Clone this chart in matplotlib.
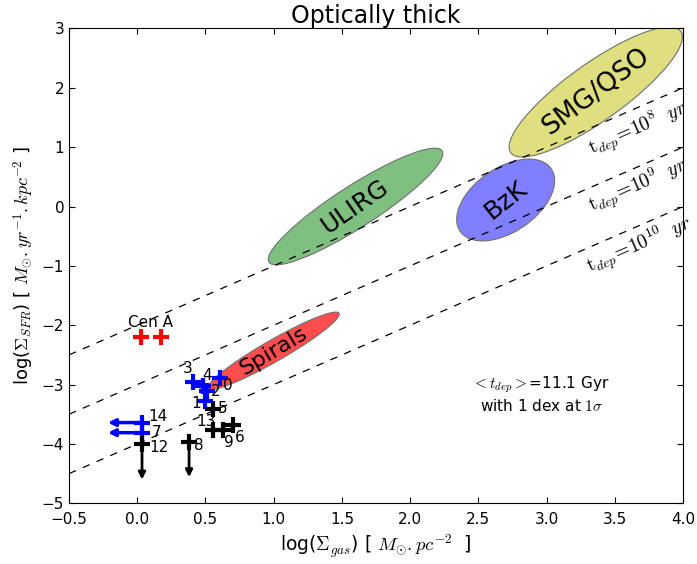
"""Kennicutt-Schmidt style plot: optically thick case."""

import matplotlib

matplotlib.use("Agg")

import matplotlib.pyplot as plt
import numpy as np
from matplotlib.patches import Ellipse

plt.rcParams["mathtext.fontset"] = "cm"

# depletion-time lines (log yr)
tdep_logs = [8, 9, 10]
tdep_label_x = [3.67, 3.67, 3.68]
tdep_label_y = [1.32, 0.36, -0.65]

# populations as ellipses: name, centre, width, height (data units), angle (deg), colour
pops = ["Spirals", "ULIRG", "BzK", "SMG/QSO"]
pop_x = [1.00, 1.60, 2.70, 3.36]
pop_y = [-2.43, 0.00, 0.11, 1.93]
pop_w = [1.60, 2.30, 1.43, 2.46]
pop_h = [0.25, 0.46, 0.61, 0.60]
pop_ang = [54, 58, 73, 62]
pop_col = ["#ff4d4d", "#7fbf7f", "#7f7fff", "#dfdf7f"]
pop_rot = [31, 35, 38, 37]
pop_fs = [16, 18, 18, 19]

# Cen A
cena_x = [0.025, 0.172]
cena_y = [-2.19, -2.19]

# numbered sources
blue_id = ["0", "1", "2", "3", "4"]
blue_x = [0.606, 0.496, 0.51, 0.408, 0.48]
blue_y = [-2.89, -3.28, -3.11, -2.955, -3.03]

black_id = ["5", "6", "9", "13"]
black_x = [0.555, 0.70, 0.628, 0.555]
black_y = [-3.41, -3.68, -3.76, -3.76]

# upper limits
lim_id = ["14", "7"]          # limits in gas (arrow to the left)
lim_x = [0.035, 0.035]
lim_y = [-3.64, -3.81]
ulim_id = ["12", "8"]         # limits in SFR (arrow down)
ulim_x = [0.035, 0.38]
ulim_y = [-4.0, -3.96]

# label offsets in points
label_off = {
    "0": (6, -5), "1": (-6.5, -2), "2": (6.5, 0), "3": (-3.6, 9.4), "4": (2.9, 7.9),
    "5": (7.2, 0.5), "6": (5, -9), "9": (4.3, -9.5), "13": (-5, 5.8),
    "14": (11.5, 4.3), "7": (10.8, 0), "12": (11.9, -2.2), "8": (7.2, -2.9),
}


def main() -> None:
    fig = plt.figure(figsize=(6.97, 5.64), dpi=100)
    ax = fig.add_axes([0.099, 0.1076, 0.881, 0.842])

    for name, x, y, w, h, a, c, r, fs in zip(pops, pop_x, pop_y, pop_w, pop_h,
                                             pop_ang, pop_col, pop_rot, pop_fs):
        ax.add_patch(Ellipse((x, y), w, h, angle=a, facecolor=c,
                             edgecolor="#707070", linewidth=0.8, zorder=1))
        ax.text(x, y, name, fontsize=fs, rotation=r, ha="center", va="center",
                rotation_mode="anchor", zorder=4)

    xs = np.array([-0.5, 4.0])
    for t, lx, ly in zip(tdep_logs, tdep_label_x, tdep_label_y):
        ax.plot(xs, xs + 6 - t, "k--", linewidth=0.9, dashes=(6, 6), zorder=2)
        ax.text(lx, ly, r"$\mathrm{t}_{dep}\!=\!10^{%d}\ \ yr$" % t, fontsize=14,
                rotation=23.5, ha="center", va="center", rotation_mode="anchor",
                clip_on=False)

    mk = dict(marker="+", markersize=12, markeredgewidth=3, linestyle="none", zorder=5)
    ax.plot(cena_x, cena_y, color="red", **mk)
    ax.text(np.mean(cena_x), cena_y[0] + 0.24, "Cen A", fontsize=11, ha="center", va="center")

    ax.plot(blue_x, blue_y, color="blue", **mk)
    ax.plot(black_x, black_y, color="black", **mk)
    ax.plot(lim_x, lim_y, color="blue", **mk)
    ax.plot(ulim_x, ulim_y, color="black", **mk)

    for x, y in zip(lim_x, lim_y):
        ax.annotate("", xy=(x - 0.25, y), xytext=(x, y), zorder=5,
                    arrowprops=dict(arrowstyle="-|>", color="blue", lw=2.5,
                                    mutation_scale=10, shrinkA=0, shrinkB=0))
    for x, y in zip(ulim_x, ulim_y):
        ax.annotate("", xy=(x, y - 0.6), xytext=(x, y), zorder=5,
                    arrowprops=dict(arrowstyle="-|>", color="black", lw=2,
                                    mutation_scale=10, shrinkA=0, shrinkB=0))

    for ids, xv, yv in [(blue_id, blue_x, blue_y), (black_id, black_x, black_y),
                        (lim_id, lim_x, lim_y), (ulim_id, ulim_x, ulim_y)]:
        for i, x, y in zip(ids, xv, yv):
            ax.annotate(i, (x, y), xytext=label_off[i], textcoords="offset points",
                        fontsize=11, ha="center", va="center", zorder=6)

    ax.text(2.96, -3.16, r"$<t_{dep}>$=11.1 Gyr" + "\n" + r"with 1 dex at $1\sigma$",
            fontsize=11, ha="center", va="center")

    ax.set_xlim(-0.5, 4.0)
    ax.set_ylim(-5, 3)
    ax.set_xticks(np.arange(-0.5, 4.01, 0.5))
    ax.set_yticks(np.arange(-5, 3.01, 1))
    ax.tick_params(direction="in", top=True, right=True, labelsize=11, length=4)
    ax.tick_params(axis="x", pad=6)
    ax.set_title("Optically thick", fontsize=17, pad=4)
    ax.set_xlabel(r"log($\Sigma_{gas}$) [ $M_{\odot}.pc^{-2}$  ]", fontsize=13.5)
    ax.set_ylabel(r"log($\Sigma_{SFR}$) [ $M_{\odot}.yr^{-1}.kpc^{-2}$ ]", fontsize=13)

    fig.savefig("out.png", dpi=100)


if __name__ == "__main__":
    main()
